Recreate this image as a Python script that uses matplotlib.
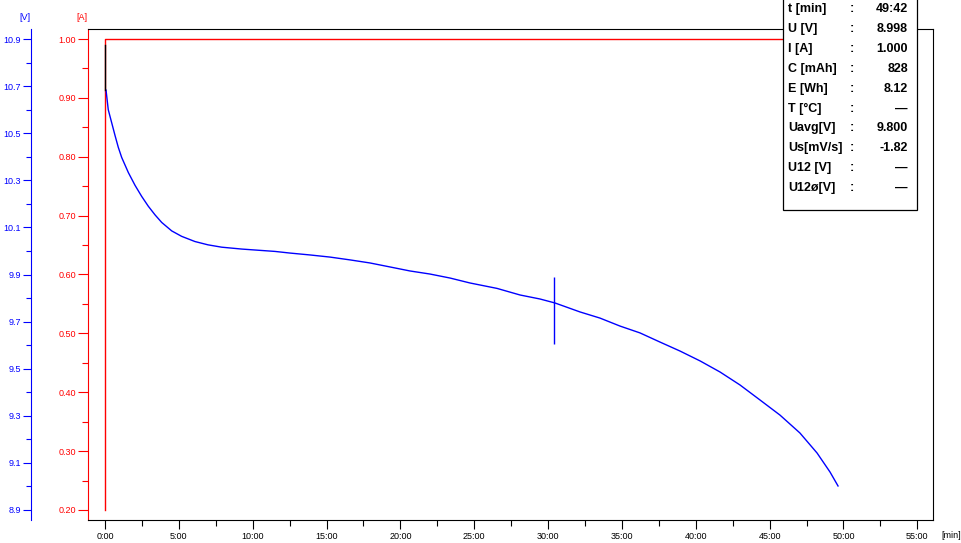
import numpy as np
import matplotlib.pyplot as plt
from matplotlib.ticker import MultipleLocator, FixedLocator, FuncFormatter
from matplotlib.patches import Rectangle

plt.rcParams['font.family'] = ['Liberation Sans', 'DejaVu Sans']

# discharge voltage (time in minutes, volts)
t_min = [0.07, 0.22, 0.45, 0.68, 0.90, 1.13, 1.58, 2.03, 2.48, 2.93, 3.39, 3.84,
         4.52, 5.19, 6.09, 6.97, 7.90, 9.26, 10.61, 11.51, 12.53, 13.88, 15.23,
         16.59, 17.94, 19.30, 20.65, 22.00, 23.36, 24.71, 26.54, 28.10, 29.45,
         30.47, 32.16, 33.51, 34.87, 36.22, 37.58, 38.93, 40.29, 41.64, 42.99,
         44.35, 45.70, 47.05, 48.21, 49.09, 49.63]
u_volt = [10.683, 10.600, 10.545, 10.490, 10.440, 10.397, 10.333, 10.279, 10.232,
          10.190, 10.153, 10.121, 10.085, 10.062, 10.040, 10.026, 10.016, 10.008,
          10.002, 9.998, 9.991, 9.983, 9.974, 9.962, 9.949, 9.932, 9.915, 9.902,
          9.885, 9.864, 9.841, 9.813, 9.796, 9.779, 9.741, 9.715, 9.681, 9.652,
          9.613, 9.575, 9.533, 9.486, 9.431, 9.367, 9.303, 9.227, 9.142, 9.061,
          9.002]

# open-circuit voltage right at the start (drawn in black)
start_t = [0.0, 0.0]
start_u = [10.875, 10.683]

# discharge current
cur_t = [0.0, 0.0, 49.7]
cur_a = [0.20, 1.00, 1.00]

# cursor marker
cursor_t = 30.42
cursor_u = [9.605, 9.889]

u_ticks = [8.9, 9.1, 9.3, 9.5, 9.7, 9.9, 10.1, 10.3, 10.5, 10.7, 10.9]
u_minor = [9.0, 9.2, 9.4, 9.6, 9.8, 10.0, 10.2, 10.4, 10.6, 10.8]

info_names = ['t [min]', 'U [V]', 'I [A]', 'C [mAh]', 'E [Wh]', 'T [°C]',
              'Uavg[V]', 'Us[mV/s]', 'U12 [V]', 'U12ø[V]']
info_values = ['49:42', '8.998', '1.000', '828', '8.12', '—',
               '9.800', '-1.82', '—', '—']

W, H = 962, 543
BLUE = '#0000ff'
RED = '#ff0000'

fig = plt.figure(figsize=(W / 100, H / 100), dpi=100)
ax = fig.add_axes([88 / W, 1 - 520 / H, (933 - 88) / W, (520 - 29) / H])

ax.plot(cur_t, cur_a, color=RED, lw=1.0)
ax.set_xlim(-1.151, 56.06)
ax.set_ylim(0.183, 1.017)

ax.xaxis.set_major_locator(MultipleLocator(5))
ax.xaxis.set_minor_locator(MultipleLocator(2.5))
ax.xaxis.set_major_formatter(FuncFormatter(lambda v, p: f"{int(round(v))}:00"))
ax.yaxis.set_major_locator(MultipleLocator(0.1))
ax.yaxis.set_minor_locator(MultipleLocator(0.05))
ax.yaxis.set_major_formatter(FuncFormatter(lambda v, p: f"{v:.2f}"))

ax.tick_params(axis='x', which='major', length=6.5, width=0.8, labelsize=6.5, pad=2)
ax.tick_params(axis='x', which='minor', length=4.3, width=0.8)
ax.tick_params(axis='y', which='major', length=7.2, width=0.8, color=RED,
               labelcolor=RED, labelsize=6.5, pad=1.5)
ax.tick_params(axis='y', which='minor', length=4.3, width=0.8, color=RED)
for s in ['top', 'right', 'bottom']:
    ax.spines[s].set_color('black')
    ax.spines[s].set_linewidth(0.8)
ax.spines['left'].set_color(RED)
ax.spines['left'].set_linewidth(0.8)

ax2 = ax.twinx()
ax2.plot(t_min, u_volt, color=BLUE, lw=1.0)
ax2.plot(start_t, start_u, color='black', lw=1.0)
ax2.vlines(cursor_t, cursor_u[0], cursor_u[1], color=BLUE, lw=1.0)
ax2.set_ylim(8.8575, 10.9425)
ax2.yaxis.tick_left()
ax2.yaxis.set_major_locator(FixedLocator(u_ticks))
ax2.yaxis.set_minor_locator(FixedLocator(u_minor))
ax2.yaxis.set_major_formatter(FuncFormatter(lambda v, p: f"{v:.1f}"))
ax2.tick_params(axis='y', which='major', length=5.8, width=0.8, color=BLUE,
                labelcolor=BLUE, labelsize=6.5, pad=1.5)
ax2.tick_params(axis='y', which='minor', length=3.6, width=0.8, color=BLUE)
for s in ['top', 'right', 'bottom']:
    ax2.spines[s].set_visible(False)
ax2.spines['left'].set_visible(True)
ax2.spines['left'].set_color(BLUE)
ax2.spines['left'].set_linewidth(0.8)
ax2.spines['left'].set_position(('axes', -57 / 845))

fig.text(25 / W, 1 - 18 / H, '[V]', color=BLUE, fontsize=6.5, ha='center', va='center')
fig.text(82 / W, 1 - 18 / H, '[A]', color=RED, fontsize=6.5, ha='center', va='center')
fig.text(951 / W, 1 - 535 / H, '[min]', color='black', fontsize=6.5, ha='center', va='center')

# info box
fig.add_artist(Rectangle((783 / W, 1 - 210 / H), (917 - 783) / W, 212 / H,
                         transform=fig.transFigure, facecolor='white',
                         edgecolor='black', lw=0.9, zorder=5))
for i, (name, val) in enumerate(zip(info_names, info_values)):
    y = 1 - (9 + 19.9 * i) / H
    fig.text(788 / W, y, name, fontsize=9, fontweight='bold', ha='left', va='center', zorder=6)
    fig.text(852 / W, y, ':', fontsize=9, fontweight='bold', ha='center', va='center', zorder=6)
    fig.text(908 / W, y, val, fontsize=9, fontweight='bold', ha='right', va='center', zorder=6)

fig.savefig('out.png', dpi=100)
